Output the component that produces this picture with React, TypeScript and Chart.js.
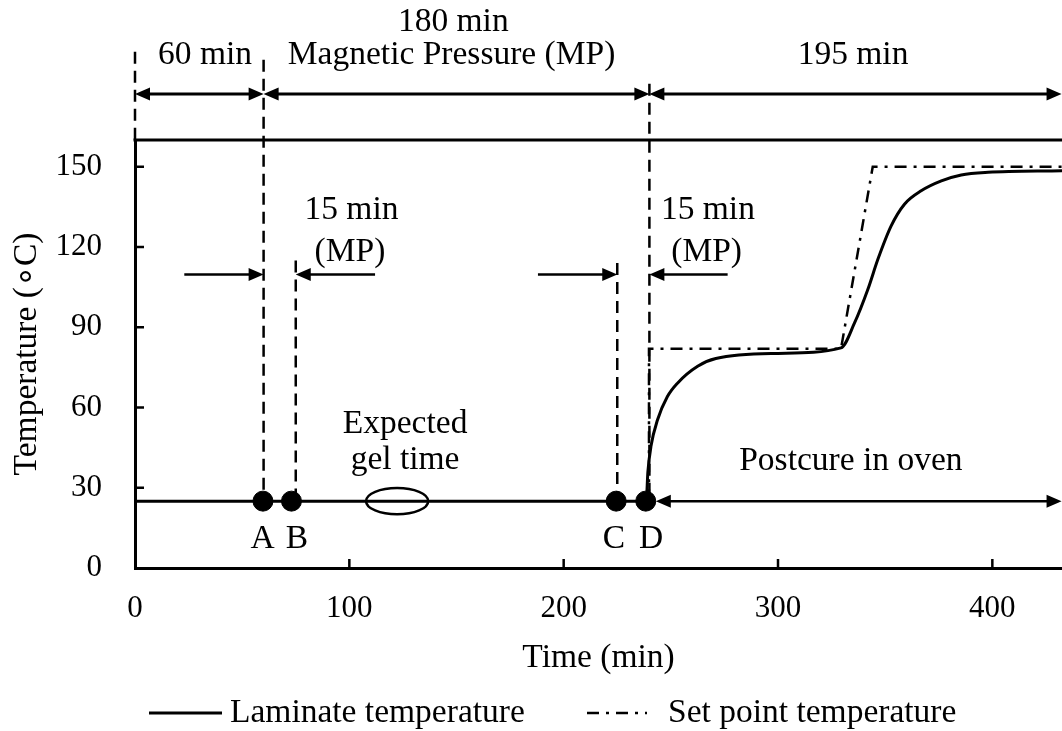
import React, { useEffect, useRef } from "react";
import { Chart, registerables } from "chart.js";

Chart.register(...registerables);

// ---------- data ----------
const X_MIN = 0;
const X_MAX = 432.5;
const Y_MIN = 0;
const Y_MAX = 160;
const X_STEP = 100;
const Y_STEP = 30;

const laminateTime = [0, 238.5, 239.3, 240.7, 243.8, 248.4, 253.1, 262.5, 271, 300, 329.4, 335.7, 341.9, 346.6, 352.8, 359, 366.8, 376.2, 385.5, 398, 432.5];
const laminateTemp = [25, 25, 36, 45.4, 55.4, 64.1, 69.1, 75.4, 78.3, 80.2, 82.3, 91.6, 104.1, 115.4, 127.9, 136, 141, 144.7, 146.9, 147.9, 148.5];

const setPointTime = [239.8, 239.8, 329.4, 344.2, 432.5];
const setPointTemp = [25, 82, 82, 150, 150];

const eventTime = [59.7, 73, 224.5, 238.3];
const eventTemp = [25, 25, 25, 25];
const eventLabels = ["A", "B", "C", "D"];
const eventLabelTime = [59.5, 75.6, 223.5, 240.8];
const eventLabelTemp = [7.4, 7.4, 7.4, 7.4];

// phase boundaries (top dimension arrows)
const phaseBounds = [0, 60, 240, 432.3];
const phaseText = ["60 min", "Magnetic Pressure (MP)", "195 min"];
const phaseTextTime = [32.7, 147.7, 335];
const phaseTopText = "180 min";
const phaseTopTextTime = 148.5;

// vertical dashed guide lines: time, from temp, to temp
const guideTime = [0, 60, 240, 75, 225];
const guideFrom = [193, 190, 181, 115, 114];
const guideTo = [160, 25, 25, 25, 25];

// 15 min arrows: tail time -> tip time
const mpArrowTail = [23, 112, 188, 276.5];
const mpArrowTip = [60, 75, 225, 240];
const mpArrowTemp = 109.7;
const mpText1Time = [101, 267.3];
const mpText2Time = [100.3, 266.7];
const mpText1 = "15 min";
const mpText2 = "(MP)";
const mpText1Temp = 130.3;
const mpText2Temp = 114.6;

const gelText = ["Expected", "gel time"];
const gelTextTime = 126;
const gelTextTemp = [50.3, 37];
const gelTime = 122.3;
const gelHalfWidth = 14.5;
const gelHalfHeight = 4.9;

const postcureText = "Postcure in oven";
const postcureTextTime = 334;
const postcureTextTemp = 36.6;
const postcureFrom = 243;
const postcureTo = 432.3;

// temperatures (in axis units) of rows above the plot
const rowTopText = 200.9;
const rowText = 188.5;
const rowArrow = 177.2;

const FONT = "'Liberation Serif', 'Times New Roman', serif";
const TEXT_PX = 33.5;
const TICK_PX = 31;

function arrowHead(ctx: CanvasRenderingContext2D, tipX: number, tipY: number, dir: number) {
  const L = 15;
  const W = 6.5;
  ctx.beginPath();
  ctx.moveTo(tipX, tipY);
  ctx.lineTo(tipX - dir * L, tipY - W);
  ctx.lineTo(tipX - dir * L, tipY + W);
  ctx.closePath();
  ctx.fill();
}

function arrow(ctx: CanvasRenderingContext2D, tailX: number, tipX: number, y: number, width: number, double: boolean) {
  const dir = tipX > tailX ? 1 : -1;
  ctx.lineWidth = width;
  ctx.setLineDash([]);
  ctx.beginPath();
  ctx.moveTo(double ? tailX + dir * 10 : tailX, y);
  ctx.lineTo(tipX - dir * 10, y);
  ctx.stroke();
  arrowHead(ctx, tipX, y, dir);
  if (double) arrowHead(ctx, tailX, y, -dir);
}

const annotationPlugin = {
  id: "annotations",
  afterDatasetsDraw(chart: any) {
    const { ctx, chartArea, scales } = chart;
    const xs = scales.x;
    const ys = scales.y;
    const px = (v: number) => xs.getPixelForValue(v);
    const py = (v: number) => ys.getPixelForValue(v);
    ctx.save();
    ctx.strokeStyle = "#000";
    ctx.fillStyle = "#000";

    // top frame line
    ctx.lineWidth = 3;
    ctx.setLineDash([]);
    ctx.beginPath();
    ctx.moveTo(chartArea.left - 1.5, chartArea.top);
    ctx.lineTo(chartArea.right, chartArea.top);
    ctx.stroke();

    // inward tick marks
    ctx.lineWidth = 2.5;
    xs.ticks.forEach((t: any) => {
      if (t.value === X_MIN) return;
      const x = px(t.value);
      ctx.beginPath();
      ctx.moveTo(x, chartArea.bottom);
      ctx.lineTo(x, chartArea.bottom - 9);
      ctx.stroke();
    });
    ys.ticks.forEach((t: any) => {
      if (t.value === Y_MIN) return;
      const y = py(t.value);
      ctx.beginPath();
      ctx.moveTo(chartArea.left, y);
      ctx.lineTo(chartArea.left + 9, y);
      ctx.stroke();
    });

    // dashed guide lines
    ctx.lineWidth = 2.5;
    ctx.setLineDash([12, 7]);
    guideTime.forEach((t, i) => {
      ctx.beginPath();
      ctx.moveTo(px(t), py(guideFrom[i]));
      ctx.lineTo(px(t), py(guideTo[i]));
      ctx.stroke();
    });
    ctx.setLineDash([]);

    // top dimension arrows
    for (let i = 0; i < phaseBounds.length - 1; i++) {
      arrow(ctx, px(phaseBounds[i]), px(phaseBounds[i + 1]), py(rowArrow), 3, true);
    }

    // 15 min arrows
    mpArrowTail.forEach((t, i) => {
      arrow(ctx, px(t), px(mpArrowTip[i]), py(mpArrowTemp), 2.5, false);
    });

    // postcure arrow
    arrow(ctx, px(postcureFrom), px(postcureTo), py(25), 2.5, true);

    // gel time ellipse
    ctx.lineWidth = 2.5;
    ctx.beginPath();
    const cx = px(gelTime);
    const cy = py(25);
    const rx = px(gelTime + gelHalfWidth) - cx;
    const ry = cy - py(25 + gelHalfHeight);
    ctx.ellipse(cx, cy, rx, ry, 0, 0, Math.PI * 2);
    ctx.stroke();

    // texts
    ctx.font = `${TEXT_PX}px ${FONT}`;
    ctx.textAlign = "center";
    ctx.textBaseline = "alphabetic";
    ctx.fillText(phaseTopText, px(phaseTopTextTime), py(rowTopText));
    phaseText.forEach((s, i) => ctx.fillText(s, px(phaseTextTime[i]), py(rowText)));
    mpText1Time.forEach((t) => ctx.fillText(mpText1, px(t), py(mpText1Temp)));
    mpText2Time.forEach((t) => ctx.fillText(mpText2, px(t), py(mpText2Temp)));
    gelText.forEach((s, i) => ctx.fillText(s, px(gelTextTime), py(gelTextTemp[i])));
    ctx.fillText(postcureText, px(postcureTextTime), py(postcureTextTemp));
    eventLabels.forEach((s, i) => ctx.fillText(s, px(eventLabelTime[i]), py(eventLabelTemp[i])));

    // legend
    const legendY = 713;
    const legendBase = 722;
    const items = chart.data.datasets.filter((d: any) => d.showLine);
    const sampleStart = [149, 587];
    const sampleEnd = [222, 647];
    const textStart = [230, 668];
    items.forEach((d: any, i: number) => {
      ctx.lineWidth = d.borderWidth;
      ctx.setLineDash(d.borderDash || []);
      ctx.beginPath();
      ctx.moveTo(sampleStart[i], legendY);
      ctx.lineTo(sampleEnd[i], legendY);
      ctx.stroke();
      ctx.setLineDash([]);
      ctx.textAlign = "left";
      ctx.fillText(d.label, textStart[i], legendBase);
    });
    ctx.restore();
  },
};

export default function App() {
  const canvasRef = useRef<HTMLCanvasElement | null>(null);

  useEffect(() => {
    if (!canvasRef.current) return;
    const chart = new Chart(canvasRef.current, {
      type: "scatter",
      data: {
        datasets: [
          {
            label: "Events",
            data: eventTime.map((t, i) => ({ x: t, y: eventTemp[i] })),
            showLine: false,
            pointRadius: 10,
            pointHoverRadius: 10,
            pointBackgroundColor: "#000",
            pointBorderColor: "#000",
            order: -1,
          },
          {
            label: "Laminate temperature",
            data: laminateTime.map((t, i) => ({ x: t, y: laminateTemp[i] })),
            showLine: true,
            borderColor: "#000",
            borderWidth: 3,
            pointRadius: 0,
            cubicInterpolationMode: "monotone",
          },
          {
            label: "Set point temperature",
            data: setPointTime.map((t, i) => ({ x: t, y: setPointTemp[i] })),
            showLine: true,
            borderColor: "#000",
            borderWidth: 2.5,
            borderDash: [12, 7, 3, 7],
            pointRadius: 0,
            tension: 0,
          },
        ],
      } as any,
      options: {
        responsive: false,
        animation: false,
        devicePixelRatio: 1,
        layout: { autoPadding: false, padding: { top: 140, left: 0, right: 0, bottom: 50 } },
        plugins: { legend: { display: false }, tooltip: { enabled: false } },
        scales: {
          x: {
            type: "linear",
            min: X_MIN,
            max: X_MAX,
            afterFit: (s: any) => {
              s.height = 113;
              s.paddingLeft = 0;
              s.paddingRight = 0;
            },
            ticks: {
              stepSize: X_STEP,
              includeBounds: false,
              maxRotation: 0,
              autoSkip: false,
              padding: 22,
              color: "#000",
              font: { family: FONT, size: TICK_PX },
            },
            grid: { display: false, drawTicks: false },
            border: { display: true, color: "#000", width: 3 },
            title: {
              display: true,
              text: "Time (min)",
              color: "#000",
              font: { family: FONT, size: TEXT_PX },
              padding: { top: 0, bottom: 3 },
            },
          },
          y: {
            type: "linear",
            min: Y_MIN,
            max: Y_MAX,
            afterFit: (s: any) => {
              s.width = 135;
              s.paddingTop = 0;
              s.paddingBottom = 0;
            },
            ticks: {
              stepSize: Y_STEP,
              includeBounds: false,
              padding: 33,
              color: "#000",
              font: { family: FONT, size: TICK_PX },
            },
            grid: { display: false, drawTicks: false },
            border: { display: true, color: "#000", width: 3 },
            title: {
              display: true,
              text: "Temperature (∘C)",
              color: "#000",
              font: { family: FONT, size: TEXT_PX },
              padding: { top: 7, bottom: 0 },
            },
          },
        },
      } as any,
      plugins: [annotationPlugin],
    });
    return () => chart.destroy();
  }, []);

  return (
    <div style={{ position: "fixed", left: 0, top: 0, width: 1062, height: 731, overflow: "hidden", background: "#fff" }}>
      <canvas ref={canvasRef} width={1062} height={731} style={{ display: "block" }} />
    </div>
  );
}
